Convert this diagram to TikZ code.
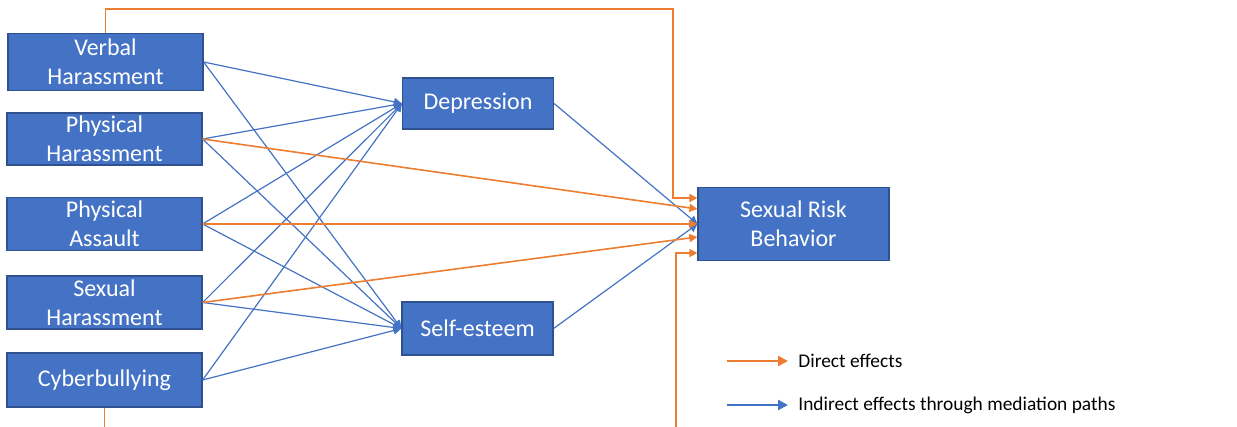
\documentclass[tikz,border=0pt]{standalone}
\usepackage{fontspec}
\setmainfont{Carlito}
\usepackage{tikz}
\usetikzlibrary{arrows.meta}
\definecolor{boxblue}{HTML}{4472C4}
\definecolor{boxedge}{HTML}{2F528F}
\definecolor{effectorange}{HTML}{ED7D31}

\begin{document}
\begin{tikzpicture}[x=0.5pt,y=-0.5pt,
    factor/.style={draw=boxedge,line width=0.6pt,fill=boxblue,text=white,
        align=center,inner sep=0pt,font=\fontsize{12}{14.5}\selectfont},
    direct/.style={draw=effectorange,line width=0.8pt,
        -{Triangle[length=4pt,width=4pt]}},
    indirect/.style={draw=boxblue,line width=0.6pt,
        -{Triangle[length=4pt,width=4pt]}},
    legendtext/.style={anchor=west,inner sep=0pt,font=\fontsize{9.7}{11}\selectfont}]
    \useasboundingbox (0,0) rectangle (1237,427);

    % Victimization types
    \node[factor,minimum width=97.5pt,minimum height=28.5pt] (verbal) at (105.5,62) {Verbal\\Harassment};
    \node[factor,minimum width=97.5pt,minimum height=26pt] (physharass) at (104.5,139) {Physical\\Harassment};
    \node[factor,minimum width=97.5pt,minimum height=26.5pt] (physassault) at (104.5,224) {Physical\\Assault};
    \node[factor,minimum width=97.5pt,minimum height=26.5pt] (sexharass) at (104.5,302.5) {Sexual\\Harassment};
    \node[factor,minimum width=97.5pt,minimum height=27pt] (cyber) at (104.5,380) {Cyberbullying};

    % Mediators and outcome
    \node[factor,minimum width=75.5pt,minimum height=25.5pt] (depression) at (478,103.5) {Depression};
    \node[factor,minimum width=75.5pt,minimum height=26.5pt] (selfesteem) at (477.5,328.5) {Self-esteem};
    \node[factor,minimum width=95.5pt,minimum height=36.5pt] (srb) at (793.5,224) {Sexual Risk\\Behavior};

    % Mediation paths
    \foreach \src in {verbal,physharass,physassault,sexharass,cyber} {
        \draw[indirect] (\src.east) -- (depression.west);
        \draw[indirect] (\src.east) -- (selfesteem.west);
    }
    \draw[indirect] (depression.east) -- (srb.west);
    \draw[indirect] (selfesteem.east) -- (srb.west);

    % Direct paths
    \draw[direct] (verbal.north) |- (673,9) |- ([yshift=13pt]srb.west);
    \draw[direct] (physharass.east) -- ([yshift=7.5pt]srb.west);
    \draw[direct] (physassault.east) -- (srb.west);
    \draw[direct] (sexharass.east) -- ([yshift=-6.5pt]srb.west);
    \draw[direct] (cyber.south) |- (676,445) |- ([yshift=-14.5pt]srb.west);

    % Legend
    \coordinate (dstart) at (727,361);
    \coordinate (dend) at (788,361);
    \coordinate (istart) at (727,405);
    \coordinate (iend) at (788,405);
    \draw[direct,line width=1.1pt,-{Triangle[length=5pt,width=5pt]}] (dstart) -- (dend);
    \draw[indirect,line width=1.1pt,-{Triangle[length=5pt,width=5pt]}] (istart) -- (iend);
    \node[legendtext] (directlbl) at (798,361) {Direct effects};
    \node[legendtext] (indirectlbl) at (798,405) {Indirect effects through mediation paths};
\end{tikzpicture}
\end{document}
